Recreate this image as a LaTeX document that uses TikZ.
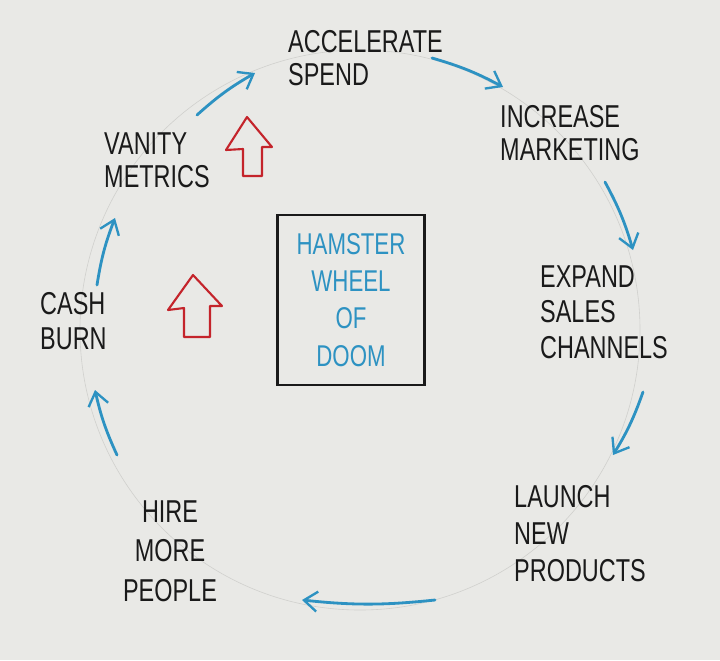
\documentclass[tikz,border=0pt]{standalone}
\usepackage{fontspec}
\setmainfont{Liberation Sans}
\usetikzlibrary{arrows.meta}
\definecolor{paper}{RGB}{233,233,230}
\definecolor{marker}{RGB}{45,146,194}
\definecolor{ink}{RGB}{26,26,26}
\definecolor{redpen}{RGB}{196,36,43}
\definecolor{pencil}{RGB}{208,208,205}

\begin{document}
\begin{tikzpicture}[x=0.03cm,y=-0.03cm,
    stage/.style={inner sep=0pt,anchor=north west,align=left,text=ink,yscale=1.35,font=\fontsize{20}{#1}\selectfont},
    stage/.default=22,
    hub/.style={draw=ink,line width=2.4pt,text=marker,inner sep=0pt,align=center,
      minimum width=4.41cm,minimum height=3.78cm,yscale=1.35,font=\fontsize{19}{23.5}\selectfont},
    cycle arrow/.style={-{Straight Barb[length=4mm,width=6mm,line width=2pt]},line width=2.4pt,draw=marker,line cap=round},
    up arrow/.style={draw=redpen,line width=1.8pt,line join=round}]
    \fill[paper] (0,0) rectangle (720,660);
    \useasboundingbox (0,0) rectangle (720,660);

    % faint pencil wheel
    \coordinate (axle) at (360,330);
    \draw[pencil,line width=0.5pt] (axle) circle[radius=8.4cm];

    \node[hub] (hamster) at (351,300) {HAMSTER\\WHEEL\\OF\\DOOM};

    \node[stage=21] (accel) at (288,30) {ACCELERATE\\SPEND};
    \node[stage=21] (increase) at (500,105) {INCREASE\\MARKETING};
    \node[stage=22.5] (expand) at (540,265) {EXPAND\\SALES\\CHANNELS};
    \node[stage=23.5] (launch) at (514,485) {LAUNCH\\NEW\\PRODUCTS};
    \node[stage=25,anchor=north,align=center] (hire) at (170,500) {HIRE\\MORE\\PEOPLE};
    \node[stage=22] (cash) at (40,292) {CASH\\BURN};
    \node[stage=21] (vanity) at (104,132) {VANITY\\METRICS};

    % ends of the arrows on the wheel
    \coordinate (s1) at (197,115); \coordinate (e1) at (255,73);
    \coordinate (s2) at (432,58);  \coordinate (e2) at (503,87);
    \coordinate (s3) at (605,182); \coordinate (e3) at (633,250);
    \coordinate (s4) at (643,392); \coordinate (e4) at (613,455);
    \coordinate (s5) at (435,600); \coordinate (e5) at (302,600);
    \coordinate (s6) at (117,455); \coordinate (e6) at (95,390);
    \coordinate (s7) at (97,285);  \coordinate (e7) at (115,218);
    \foreach \i in {1,...,7}
        \draw[cycle arrow] (s\i) to[bend left=6] (e\i);

    \draw[up arrow] (247,117) -- (272,147) -- (262,147) -- (262,176) -- (243,176) -- (243,149) -- (226,150) -- cycle;
    \draw[up arrow] (193,275) -- (222,306) -- (210,306) -- (210,337) -- (184,337) -- (184,308) -- (168,310) -- cycle;
\end{tikzpicture}
\end{document}
